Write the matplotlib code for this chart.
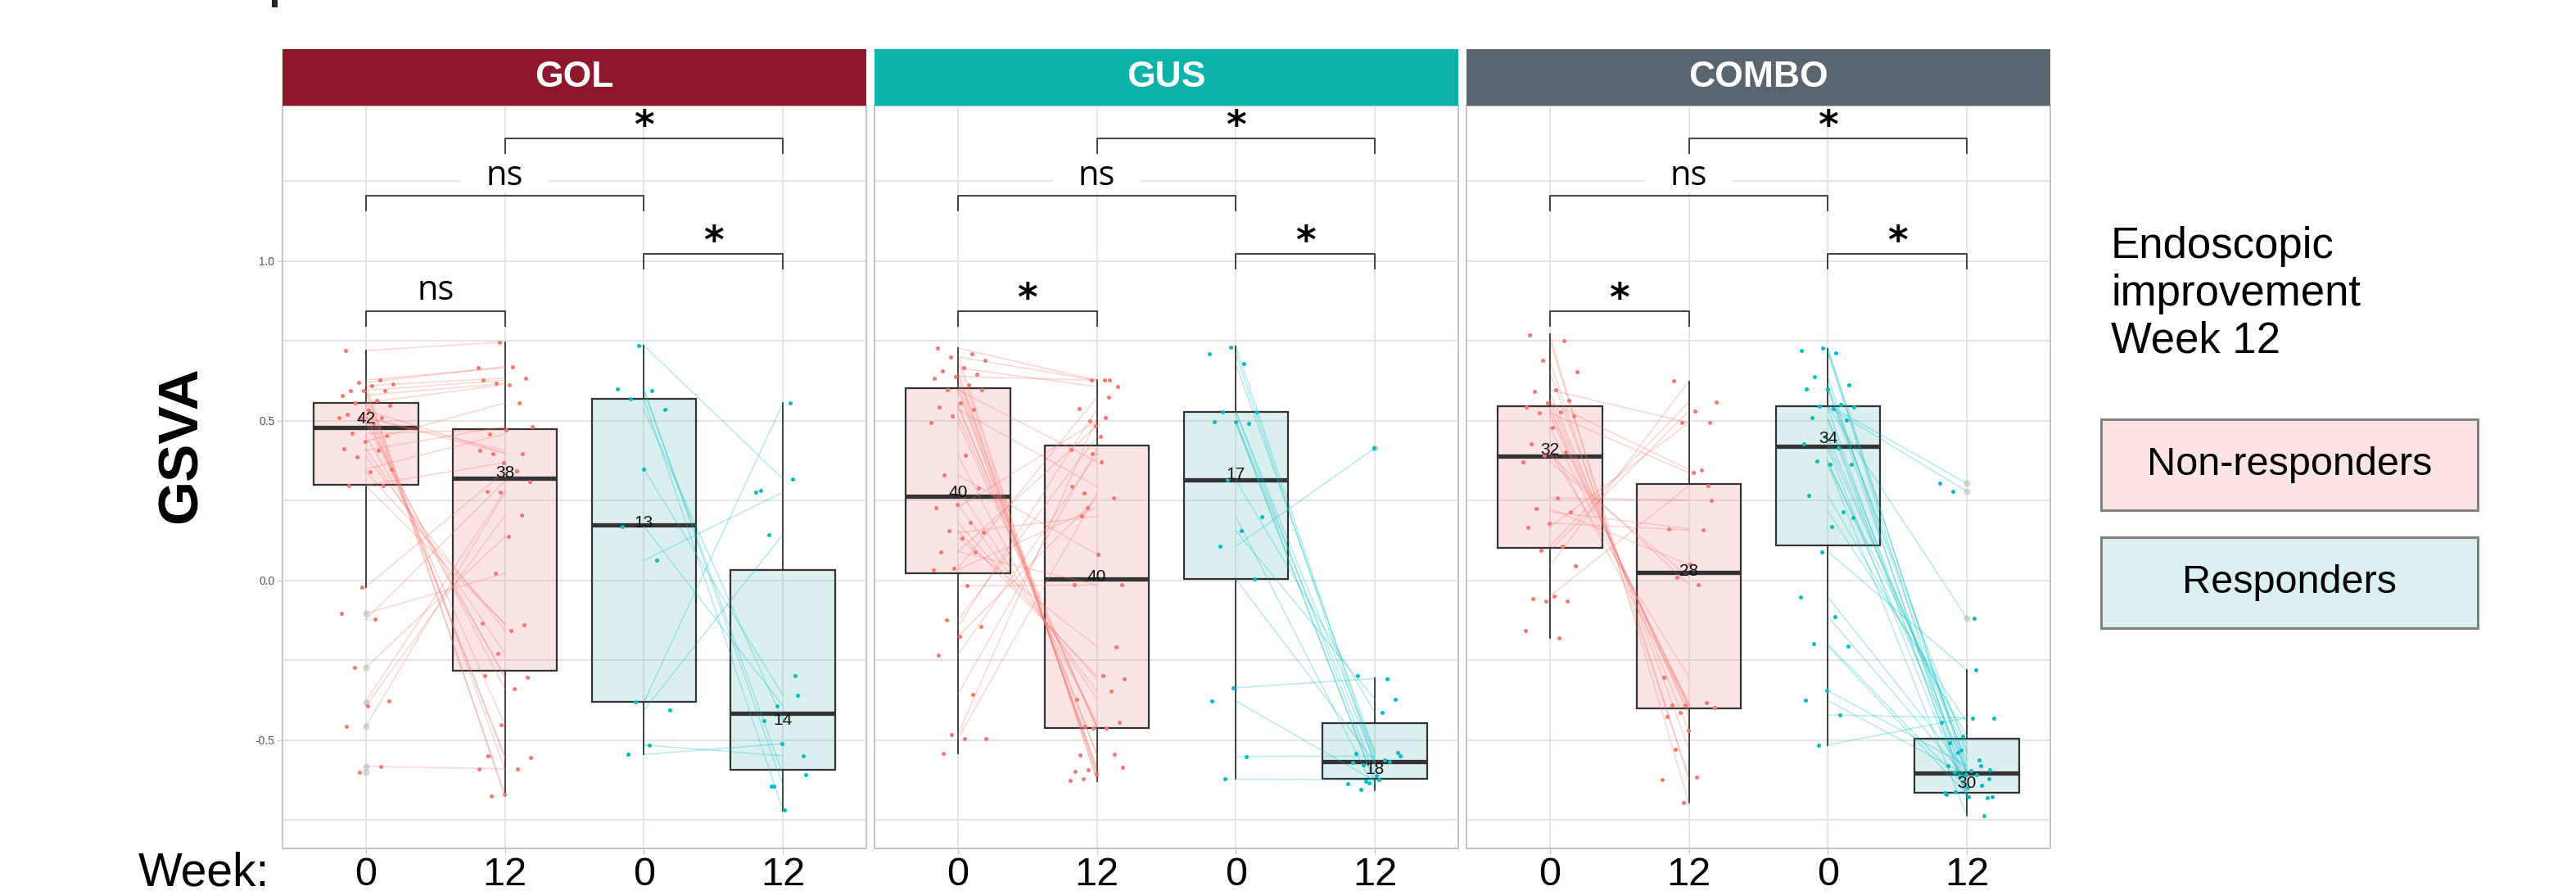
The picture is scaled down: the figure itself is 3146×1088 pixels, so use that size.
import matplotlib
matplotlib.use('Agg')
import matplotlib.pyplot as plt
from matplotlib.patches import Rectangle
import numpy as np

plt.rcParams['font.family'] = ['Liberation Sans', 'DejaVu Sans']

W, H = 3146, 1088

# ---- data ----
panels = ['GOL', 'GUS', 'COMBO']
strip_colors = ['#8E182B', '#0DB3A8', '#59656F']
week_labels = ['0', '12', '0', '12']
legend_labels = ['Non-responders', 'Responders']

# box stats, order: NR wk0, NR wk12, R wk0, R wk12
gol_lo = [-0.022, -0.676, -0.545, -0.720]
gol_q1 = [0.299, -0.282, -0.381, -0.593]
gol_med = [0.479, 0.319, 0.173, -0.415]
gol_q3 = [0.557, 0.475, 0.569, 0.033]
gol_hi = [0.721, 0.747, 0.736, 0.555]
gol_fliers = [[-0.104, -0.272, -0.383, -0.456, -0.583, -0.600], [], [], []]

gus_lo = [-0.541, -0.628, -0.622, -0.656]
gus_q1 = [0.022, -0.462, 0.004, -0.622]
gus_med = [0.263, 0.004, 0.314, -0.566]
gus_q3 = [0.603, 0.422, 0.529, -0.447]
gus_hi = [0.728, 0.627, 0.734, -0.305]
gus_fliers = [[], [], [], [0.415]]

combo_lo = [-0.181, -0.696, -0.515, -0.737]
combo_q1 = [0.103, -0.401, 0.111, -0.665]
combo_med = [0.389, 0.026, 0.421, -0.603]
combo_q3 = [0.545, 0.303, 0.545, -0.496]
combo_hi = [0.771, 0.623, 0.726, -0.281]
combo_fliers = [[], [], [], [0.304, 0.279, -0.118]]

# sample counts printed in the boxes, and the height they sit at
gol_n = [42, 38, 13, 14]
gol_n_y = [0.505, 0.337, 0.180, -0.437]
gus_n = [40, 40, 17, 18]
gus_n_y = [0.276, 0.010, 0.332, -0.591]
combo_n = [32, 28, 34, 30]
combo_n_y = [0.409, 0.030, 0.444, -0.635]

# patient values; same index in wk0 / wk12 = same patient (paired line)
gol_nr_w0 = [0.72, 0.628, 0.62, 0.615, 0.61, 0.595, 0.595, 0.595, 0.58, 0.565, 0.557, 0.548,
             0.533, 0.52, 0.51, 0.51, 0.51, 0.493, 0.46, 0.454, 0.436, 0.413, 0.408, 0.388,
             0.349, 0.341, 0.298, 0.297, -0.02, -0.103, -0.122, -0.272, -0.378, -0.392,
             -0.456, -0.582, -0.60]
gol_nr_w12 = [0.747, 0.666, 0.67, -0.676, 0.634, -0.67, 0.627, -0.59, 0.617, -0.555, 0.613,
              -0.549, 0.398, -0.452, 0.408, -0.34, 0.398, -0.304, 0.472, -0.299, 0.556, -0.228,
              0.482, -0.156, 0.459, -0.139, 0.369, -0.135, 0.342, 0.022, 0.311, 0.137, 0.28,
              0.204, 0.276, -0.59]
gol_r_w0 = [0.736, 0.599, 0.595, 0.569, 0.535, 0.349, 0.170, 0.063, -0.381, -0.406, -0.515, -0.545]
gol_r_w12 = [0.318, -0.643, -0.607, -0.718, -0.438, -0.359, -0.393, 0.276, 0.555, 0.144, -0.549,
             -0.511, 0.282, -0.299, -0.643]

gus_nr_w0 = [0.728, 0.709, 0.70, 0.689, 0.666, 0.656, 0.647, 0.639, 0.634, 0.613, 0.597, 0.597,
             0.555, 0.544, 0.536, 0.516, 0.495, 0.393, 0.33, 0.289, 0.238, 0.229, 0.182, 0.155,
             0.15, 0.133, 0.09, 0.09, 0.038, 0.034, -0.017, -0.124, -0.145, -0.175, -0.234,
             -0.357, -0.483, -0.495, -0.496, -0.541]
gus_nr_w12 = [0.627, -0.626, 0.627, -0.62, 0.607, -0.605, -0.598, 0.627, -0.592, -0.585, 0.372,
              -0.547, -0.543, -0.462, 0.294, -0.462, -0.457, -0.445, 0.082, -0.372, -0.347, 0.5,
              -0.308, -0.299, 0.201, -0.207, 0.484, -0.014, 0.574, 0.229, -0.014, 0.45, 0.537,
              0.258, 0.396, 0.411, 0.509, 0.274]
gus_r_w0 = [0.731, 0.71, 0.678, 0.529, 0.527, 0.498, 0.498, 0.493, 0.314, 0.199, 0.156, 0.107,
            0.004, -0.336, -0.377, -0.551, -0.622]
gus_r_w12 = [-0.561, -0.578, -0.538, -0.611, -0.542, -0.568, -0.633, -0.637, -0.413, -0.654,
             -0.372, 0.415, -0.57, -0.307, -0.628, -0.55, -0.624, -0.299]

combo_nr_w0 = [0.768, 0.75, 0.689, 0.653, 0.597, 0.591, 0.565, 0.557, 0.542, 0.529, 0.525, 0.515,
               0.48, 0.427, 0.402, 0.392, 0.372, 0.259, 0.225, 0.216, 0.18, 0.167, 0.108, 0.094,
               0.045, -0.049, -0.057, -0.065, -0.065, -0.157, -0.181]
combo_nr_w12 = [-0.696, -0.623, -0.616, -0.528, 0.494, -0.47, -0.425, 0.347, -0.414, -0.397, 0.337,
                -0.391, -0.383, -0.39, -0.302, -0.012, 0.011, 0.251, 0.05, 0.162, 0.158, 0.494,
                0.559, 0.531, 0.625, 0.296]
combo_r_w0 = [0.728, 0.72, 0.713, 0.638, 0.613, 0.6, 0.6, 0.55, 0.545, 0.544, 0.539, 0.509, 0.503,
              0.45, 0.427, 0.414, 0.375, 0.365, 0.365, 0.266, 0.216, 0.09, -0.052, -0.113,
              -0.199, -0.205, -0.345, -0.376, -0.421, -0.515, 0.197, 0.169]
combo_r_w12 = [-0.609, -0.663, -0.594, -0.678, -0.579, -0.641, -0.532, 0.304, -0.118, 0.279, -0.68,
               -0.609, -0.665, -0.562, -0.54, -0.678, -0.596, -0.509, -0.737, -0.487, -0.445,
               -0.281, -0.6, -0.62, -0.65, -0.67, -0.58, -0.61, -0.43, -0.43]

# significance brackets (same layout in every panel)
sig_pairs = [(1, 2), (3, 4), (1, 3), (2, 4)]
sig_heights = [0.844, 1.023, 1.204, 1.384]
gol_sig = ['ns', '*', 'ns', '*']
gus_sig = ['*', '*', 'ns', '*']
combo_sig = ['*', '*', 'ns', '*']

# ---- styling ----
nr_col = '#F8766D'
r_col = '#00BFC4'
nr_fill = '#E67878'
r_fill = '#4BAFB4'
box_edge = '#333333'
grid_col = '#E3E3E3'
border_col = '#C4C4C4'

panel_data = [
    (gol_lo, gol_q1, gol_med, gol_q3, gol_hi, gol_fliers, gol_n, gol_n_y,
     gol_nr_w0, gol_nr_w12, gol_r_w0, gol_r_w12, gol_sig),
    (gus_lo, gus_q1, gus_med, gus_q3, gus_hi, gus_fliers, gus_n, gus_n_y,
     gus_nr_w0, gus_nr_w12, gus_r_w0, gus_r_w12, gus_sig),
    (combo_lo, combo_q1, combo_med, combo_q3, combo_hi, combo_fliers, combo_n, combo_n_y,
     combo_nr_w0, combo_nr_w12, combo_r_w0, combo_r_w12, combo_sig),
]


def jitter(n, seed):
    # deterministic spread of the dots around the category centre
    return ((np.arange(n) * 0.618034 + seed) % 1.0 - 0.5) * 0.4


fig = plt.figure(figsize=(W / 100, H / 100), dpi=100)

ax_w = 713
ax_top, ax_bot = 129, 1036
for p, name in enumerate(panels):
    lo, q1, med, q3, hi, fliers, nlab, nlab_y, nr0, nr12, r0, r12, sig = panel_data[p]
    x_left = 345 + p * 723
    ax = fig.add_axes([x_left / W, 1 - ax_bot / H, ax_w / W, (ax_bot - ax_top) / H])

    # boxes
    stats = []
    for i in range(4):
        stats.append(dict(whislo=lo[i], q1=q1[i], med=med[i], q3=q3[i], whishi=hi[i],
                          fliers=fliers[i]))
    bp = ax.bxp(stats, positions=[1, 2, 3, 4], widths=0.75, patch_artist=True,
                showcaps=False, showfliers=True, manage_ticks=False,
                boxprops=dict(edgecolor=box_edge, linewidth=1.6),
                medianprops=dict(color=box_edge, linewidth=3.8),
                whiskerprops=dict(color=box_edge, linewidth=1.3),
                flierprops=dict(marker='o', markersize=6, markerfacecolor='#BDBDBD',
                                markeredgecolor='none', alpha=0.6),
                zorder=2)
    for i, patch in enumerate(bp['boxes']):
        patch.set_facecolor(nr_fill if i < 2 else r_fill)
        fc = patch.get_facecolor()
        patch.set_facecolor((fc[0], fc[1], fc[2], 0.2))

    # paired lines and dots
    for (xa, xb, va, vb, col, sd) in [(1, 2, nr0, nr12, nr_col, 0.13),
                                     (3, 4, r0, r12, r_col, 0.41)]:
        for a, b in zip(va, vb):
            ax.plot([xa, xb], [a, b], color=col, alpha=0.3, lw=1.1, zorder=3)
        ax.scatter(xa + jitter(len(va), sd), va, s=13, color=col, lw=0, zorder=4)
        ax.scatter(xb + jitter(len(vb), sd + 0.27), vb, s=13, color=col, lw=0, zorder=4)

    ax.set_xlim(0.4, 4.6)
    ax.set_ylim(-0.839, 1.487)
    ax.set_yticks([-0.5, 0.0, 0.5, 1.0])
    ax.set_yticks([-0.75, -0.25, 0.25, 0.75, 1.25], minor=True)
    ax.set_xticks([1, 2, 3, 4])
    ax.set_xticklabels(week_labels)
    ax.grid(which='both', color=grid_col, lw=1.3)
    ax.set_axisbelow(True)
    for s in ax.spines.values():
        s.set_color(border_col)
        s.set_linewidth(1.4)
    ax.tick_params(axis='x', labelsize=35, length=5, color=border_col, pad=2)
    ax.tick_params(axis='y', which='minor', length=0)
    if p == 0:
        ax.tick_params(axis='y', labelsize=10, labelcolor='#555555', length=5,
                       color=border_col, pad=2)
        ax.set_yticklabels(['-0.5', '0.0', '0.5', '1.0'])
    else:
        ax.tick_params(axis='y', length=0, labelleft=False)

    # counts
    for i in range(4):
        ax.text(i + 1, nlab_y[i], str(nlab[i]), fontsize=15, ha='center', va='center',
                color='#111111', zorder=6)

    # significance brackets
    tip = 0.046
    for (a, b), h, lab in zip(sig_pairs, sig_heights, sig):
        ax.plot([a, a, b, b], [h - tip, h, h, h - tip], color='#333333', lw=1.3,
                zorder=5, clip_on=False)
        mid = (a + b) / 2
        if lab == 'ns':
            ax.add_patch(Rectangle((mid - 0.315, h + 0.012), 0.63, 0.12, facecolor='white',
                                   edgecolor='none', zorder=1.5))
            ax.text(mid, h + 0.035, lab, fontsize=30, family='Open Sans', ha='center',
                    va='baseline', zorder=6)
        else:
            ax.text(mid, h + 0.002, lab, fontsize=34, fontweight='bold', family='DejaVu Sans',
                    ha='center', va='baseline', zorder=6)

    # strip header
    sax = fig.add_axes([x_left / W, 1 - ax_top / H, ax_w / W, 69 / H])
    sax.set_xticks([])
    sax.set_yticks([])
    sax.set_facecolor(strip_colors[p])
    for s in sax.spines.values():
        s.set_visible(False)
    sax.text(0.5, 0.5, name, color='white', fontsize=32, fontweight='bold',
             ha='center', va='center', transform=sax.transAxes)

# axis texts
fig.text(222 / W, 1 - 543 / H, 'GSVA', rotation=90, fontsize=50, fontweight='bold',
         ha='center', va='center')
fig.text(169 / W, 1 - 1082 / H, 'Week:', fontsize=41, ha='left', va='baseline')

# cropped glyph stub at the very top edge
fig.patches.append(Rectangle((332 / W, 1 - 9 / H), 7 / W, 9 / H, transform=fig.transFigure,
                             facecolor='#222222', edgecolor='none'))

# legend
fig.text(2578 / W, 1 - 276 / H, 'Endoscopic\nimprovement\nWeek 12', fontsize=38,
         ha='left', va='top', linespacing=1.2)
leg_fill = ['#FDE4E4', '#DBF0F2']
leg_top = [512, 656]
for i, lab in enumerate(legend_labels):
    fig.patches.append(Rectangle((2566 / W, 1 - (leg_top[i] + 111) / H), 460 / W, 111 / H,
                                 transform=fig.transFigure, facecolor=leg_fill[i],
                                 edgecolor='#808080', lw=2.2))
    fig.text(2796 / W, 1 - (leg_top[i] + 55) / H, lab, fontsize=35, ha='center', va='center')

fig.savefig('out.png', dpi=100)
